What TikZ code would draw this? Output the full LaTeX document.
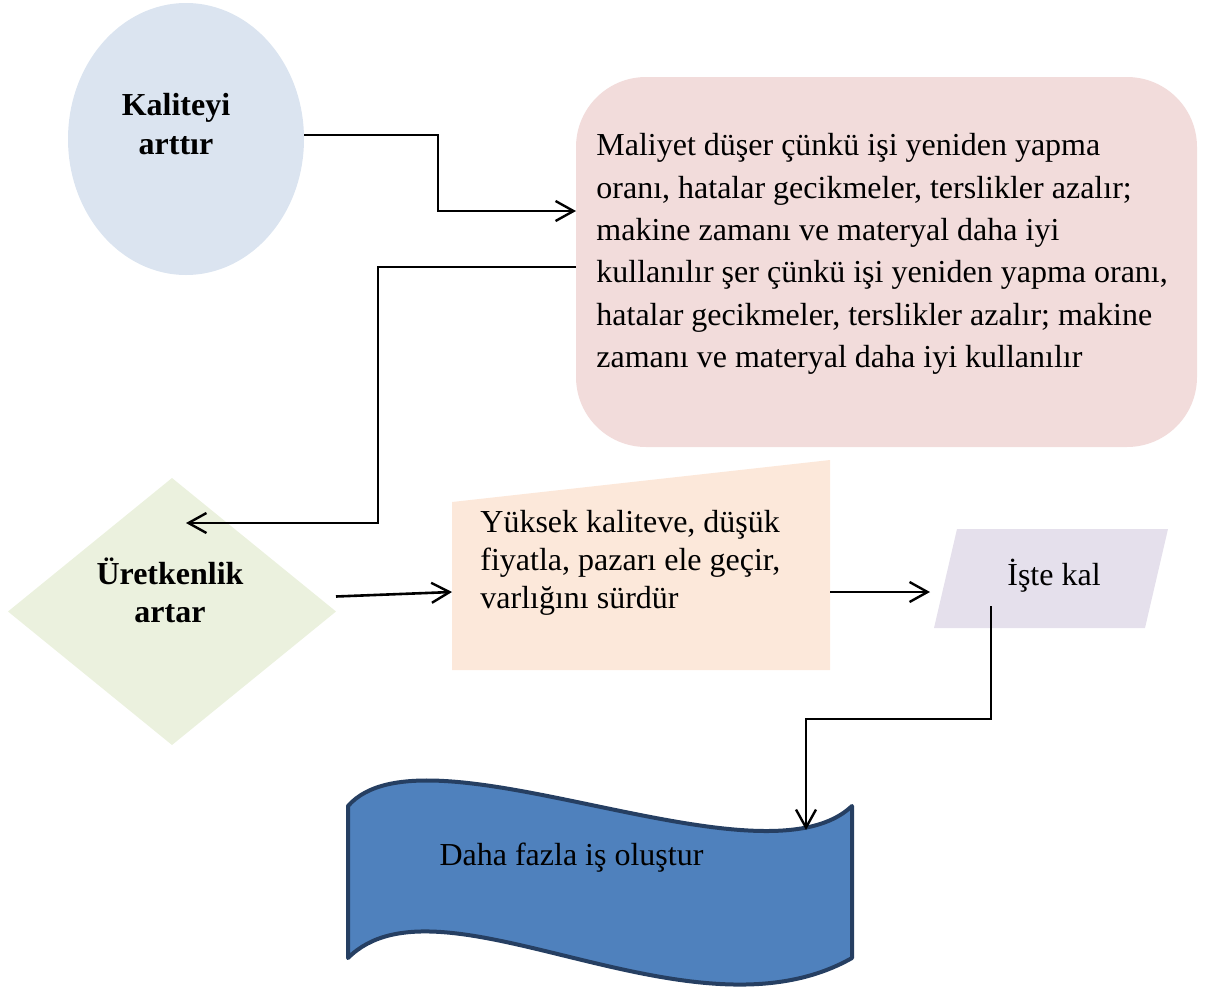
\documentclass[tikz,border=0pt]{standalone}
\usepackage{fontspec}
\setmainfont{Liberation Serif}
\usetikzlibrary{arrows.meta,shapes.geometric,calc}
\definecolor{ellfill}{HTML}{DBE4F0}
\definecolor{pinkfill}{HTML}{F2DCDB}
\definecolor{greenfill}{HTML}{EBF1DE}
\definecolor{peachfill}{HTML}{FCE8DA}
\definecolor{lavfill}{HTML}{E5E0EC}
\definecolor{bluefill}{HTML}{4F81BD}
\definecolor{bluedraw}{HTML}{263F62}
\begin{document}
\begin{tikzpicture}[x=0.5pt,y=-0.5pt,
  conn/.style={line width=1.3pt, line join=miter,
    -{Straight Barb[length=9pt,width=10pt,line width=1.2pt]}},
  shapebox/.style={inner sep=0pt, outer sep=0pt},
  txt/.style={inner sep=0pt, font=\fontsize{16}{19}\selectfont},
  boldtxt/.style={inner sep=0pt, font=\fontsize{16}{19.5}\selectfont\bfseries},
  longtxt/.style={inner sep=0pt, font=\fontsize{16}{21.2}\selectfont}
]
\useasboundingbox (0,0) rectangle (1206,991);

% shapes
\node[shapebox, ellipse, fill=ellfill, minimum width=118pt, minimum height=136pt] (kal) at (186,139) {};
\node[shapebox, rectangle, rounded corners=35pt, fill=pinkfill, minimum width=310.5pt, minimum height=185pt] (cost) at (886.5,262) {};
\node[shapebox, diamond, fill=greenfill, minimum width=164pt, minimum height=133.5pt] (prod) at (172,611.5) {};
\node[shapebox, rectangle, minimum width=189pt, minimum height=105pt] (mi) at (641,565) {};
\fill[peachfill] (mi.south west) -- (mi.south east) -- (mi.north east) -- ($(mi.north west)+(0,42)$) -- cycle;
\node[shapebox, rectangle, minimum width=117pt, minimum height=49.5pt] (stay) at (1051,578.5) {};
\fill[lavfill] ($(stay.north west)+(23,0)$) -- (stay.north east) -- ($(stay.south east)+(-23,0)$) -- (stay.south west) -- cycle;
\filldraw[fill=bluefill, draw=bluedraw, line width=2pt, line join=round]
  (348,806) .. controls (425,718) and (760,893) .. (852,806) -- (852,958)
  .. controls (690,1050) and (440,866) .. (348,958) -- cycle;
\coordinate (jobtop) at (806,830);

% texts
\node[boldtxt, align=center, anchor=north] (kalt) at (176,93) {Kaliteyi\\arttır};
\node[longtxt, align=left, anchor=north west] (costt) at (596,133) {Maliyet düşer çünkü işi yeniden yapma\\oranı, hatalar gecikmeler, terslikler azalır;\\makine zamanı ve materyal daha iyi\\kullanılır şer çünkü işi yeniden yapma oranı,\\hatalar gecikmeler, terslikler azalır; makine\\zamanı ve materyal daha iyi kullanılır};
\node[boldtxt, align=center, anchor=north, font=\fontsize{16}{19}\selectfont\bfseries] (prodt) at (170,557) {Üretkenlik\\artar};
\node[txt, align=left, anchor=north west] (mit) at (480,510) {Yüksek kaliteve, düşük\\fiyatla, pazarı ele geçir,\\varlığını sürdür};
\node[txt, anchor=base] (stayt) at (1054,585) {İşte kal};
\node[txt, anchor=base] (job) at (571.5,865) {Daha fazla iş oluştur};

% connectors
\draw[conn] ([yshift=2pt]kal.east) -| (438,211) -- (cost.west |- 0,211);
\draw[conn] (cost.west |- 0,267) -| (378,523) -- ($(prod.north)+(14,45)$);
\draw[conn] ([yshift=7.5pt]prod.east) -- (mi.west |- 0,592);
\draw[conn, shorten >=2pt] (mi.east |- 0,592) -- (stay.west |- 0,592);
\draw[conn] ($(stay.center)+(-60,27.5)$) |- (806,719) -- (jobtop);
\end{tikzpicture}
\end{document}
